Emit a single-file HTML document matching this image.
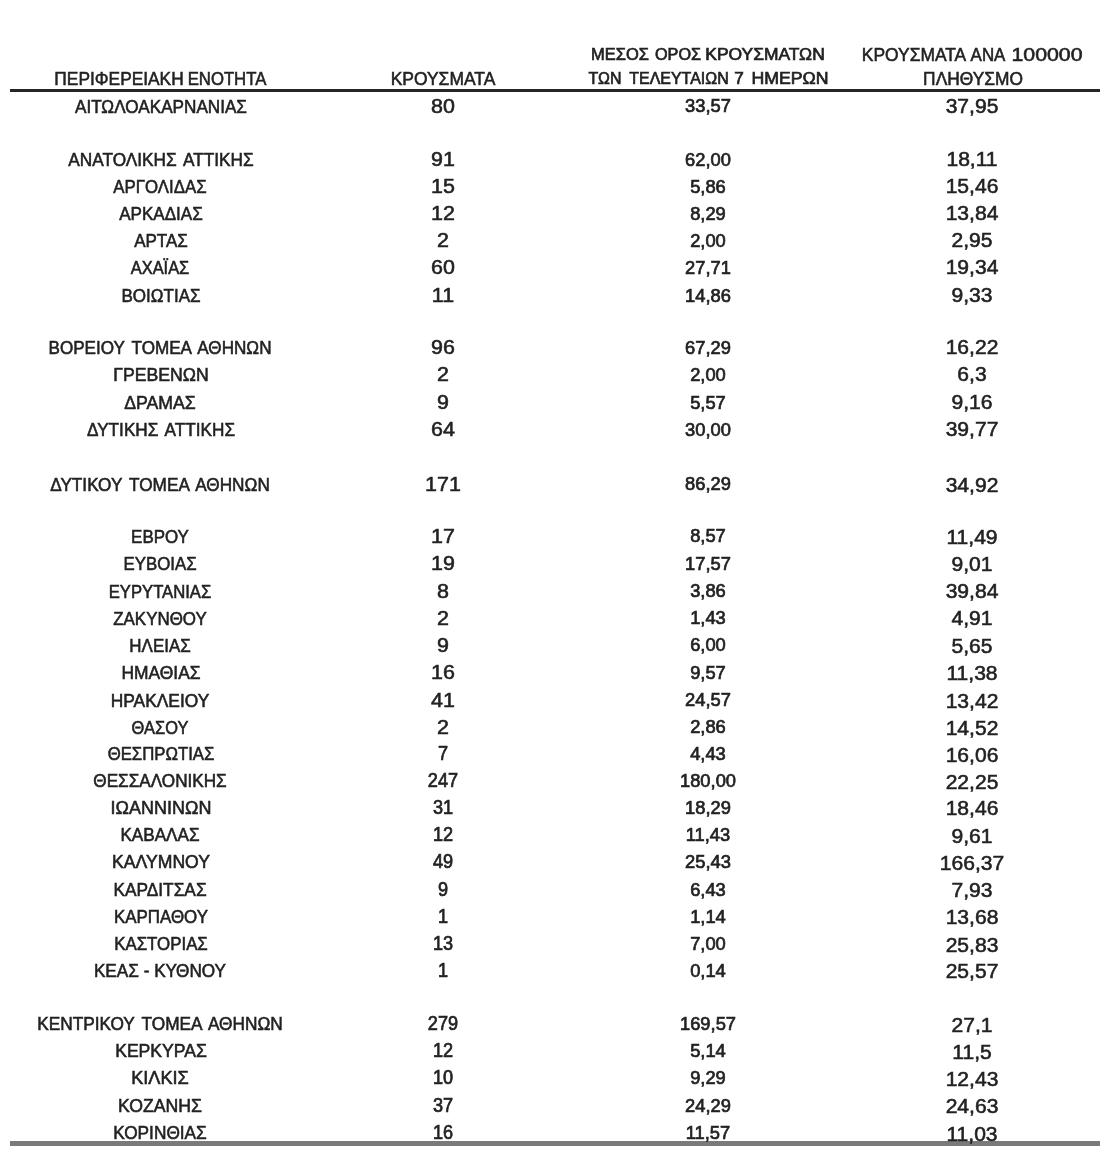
<!DOCTYPE html>
<html><head><meta charset="utf-8">
<style>
html,body{margin:0;padding:0;background:#fff;width:1100px;height:1167px;overflow:hidden;position:relative;}
#w{position:absolute;left:0;top:0;width:1100px;height:1167px;overflow:hidden;filter:blur(0.45px);}
.c{position:absolute;width:600px;line-height:30px;text-align:center;white-space:nowrap;font-family:"Liberation Sans",sans-serif;color:#222;-webkit-text-stroke:0.55px #222;transform-origin:50% 50%;}
.ln{position:absolute;}
</style></head><body><div id="w">
<div class="ln" style="left:10px;top:89px;width:1090px;height:3px;background:#262626"></div>
<div class="ln" style="left:10px;top:1141px;width:1090px;height:5px;background:#7a7a7a"></div>
<div class="c" style="left:-181.42px;top:64.26px;font-size:18.0px;transform:scaleX(0.9622);">ΠΕΡΙΦΕΡΕΙΑΚΗ</div>
<div class="c" style="left:-72.57px;top:64.26px;font-size:18.0px;transform:scaleX(0.9295);">ΕΝΟΤΗΤΑ</div>
<div class="c" style="left:142.77px;top:64.06px;font-size:18.0px;transform:scaleX(0.9694);">ΚΡΟΥΣΜΑΤΑ</div>
<div class="c" style="left:320.37px;top:38.80px;font-size:17.2px;transform:scaleX(0.9564);-webkit-text-stroke-width:0.7px;">ΜΕΣΟΣ</div>
<div class="c" style="left:377.64px;top:38.80px;font-size:17.2px;transform:scaleX(0.9424);-webkit-text-stroke-width:0.7px;">ΟΡΟΣ</div>
<div class="c" style="left:464.77px;top:38.80px;font-size:17.2px;transform:scaleX(1.0142);-webkit-text-stroke-width:0.7px;">ΚΡΟΥΣΜΑΤΩΝ</div>
<div class="c" style="left:304.57px;top:63.00px;font-size:17.2px;transform:scaleX(0.9278);-webkit-text-stroke-width:0.7px;">ΤΩΝ</div>
<div class="c" style="left:379.36px;top:63.00px;font-size:17.2px;transform:scaleX(0.9286);-webkit-text-stroke-width:0.7px;">ΤΕΛΕΥΤΑΙΩΝ</div>
<div class="c" style="left:439.40px;top:63.00px;font-size:17.2px;transform:scaleX(0.9985);-webkit-text-stroke-width:0.7px;">7</div>
<div class="c" style="left:489.59px;top:63.00px;font-size:17.2px;transform:scaleX(1.0302);-webkit-text-stroke-width:0.7px;">ΗΜΕΡΩΝ</div>
<div class="c" style="left:613.99px;top:40.16px;font-size:18.0px;transform:scaleX(0.9673);">ΚΡΟΥΣΜΑΤΑ</div>
<div class="c" style="left:688.29px;top:40.16px;font-size:18.0px;transform:scaleX(0.9395);">ΑΝΑ</div>
<div class="c" style="left:746.95px;top:40.16px;font-size:18.0px;transform:scaleX(1.1834);">100000</div>
<div class="c" style="left:672.60px;top:64.36px;font-size:18.0px;transform:scaleX(0.9633);">ΠΛΗΘΥΣΜΟ</div>
<div class="c" style="left:-139.49px;top:92.30px;font-size:17.5px;transform:scaleX(0.9793);word-spacing:2.5px;">ΑΙΤΩΛΟΑΚΑΡΝΑΝΙΑΣ</div>
<div class="c" style="left:143.25px;top:91.30px;font-size:19.5px;transform:scaleX(1.1);">80</div>
<div class="c" style="left:407.80px;top:90.80px;font-size:18.5px;transform:scaleX(0.99);-webkit-text-stroke-width:0.7px;">33,57</div>
<div class="c" style="left:672.20px;top:91.30px;font-size:19.5px;transform:scaleX(1.08);">37,95</div>
<div class="c" style="left:-139.28px;top:145.20px;font-size:17.5px;transform:scaleX(0.9853);word-spacing:2.5px;">ΑΝΑΤΟΛΙΚΗΣ ΑΤΤΙΚΗΣ</div>
<div class="c" style="left:143.25px;top:144.20px;font-size:19.5px;transform:scaleX(1.1);">91</div>
<div class="c" style="left:407.80px;top:145.20px;font-size:18.5px;transform:scaleX(0.99);-webkit-text-stroke-width:0.7px;">62,00</div>
<div class="c" style="left:672.20px;top:144.20px;font-size:19.5px;transform:scaleX(1.08);">18,11</div>
<div class="c" style="left:-139.63px;top:172.00px;font-size:17.5px;transform:scaleX(0.9613);word-spacing:2.5px;">ΑΡΓΟΛΙΔΑΣ</div>
<div class="c" style="left:143.25px;top:171.00px;font-size:19.5px;transform:scaleX(1.1);">15</div>
<div class="c" style="left:407.80px;top:172.00px;font-size:18.5px;transform:scaleX(0.99);-webkit-text-stroke-width:0.7px;">5,86</div>
<div class="c" style="left:672.20px;top:171.00px;font-size:19.5px;transform:scaleX(1.08);">15,46</div>
<div class="c" style="left:-139.16px;top:199.10px;font-size:17.5px;transform:scaleX(0.9742);word-spacing:2.5px;">ΑΡΚΑΔΙΑΣ</div>
<div class="c" style="left:143.25px;top:198.10px;font-size:19.5px;transform:scaleX(1.1);">12</div>
<div class="c" style="left:407.80px;top:199.10px;font-size:18.5px;transform:scaleX(0.99);-webkit-text-stroke-width:0.7px;">8,29</div>
<div class="c" style="left:672.20px;top:198.10px;font-size:19.5px;transform:scaleX(1.08);">13,84</div>
<div class="c" style="left:-139.04px;top:226.30px;font-size:17.5px;transform:scaleX(0.9699);word-spacing:2.5px;">ΑΡΤΑΣ</div>
<div class="c" style="left:143.25px;top:225.30px;font-size:19.5px;transform:scaleX(1.1);">2</div>
<div class="c" style="left:407.80px;top:226.30px;font-size:18.5px;transform:scaleX(0.99);-webkit-text-stroke-width:0.7px;">2,00</div>
<div class="c" style="left:672.20px;top:225.30px;font-size:19.5px;transform:scaleX(1.08);">2,95</div>
<div class="c" style="left:-139.81px;top:253.30px;font-size:17.5px;transform:scaleX(0.9388);word-spacing:2.5px;">ΑΧΑΪΑΣ</div>
<div class="c" style="left:143.25px;top:252.30px;font-size:19.5px;transform:scaleX(1.1);">60</div>
<div class="c" style="left:407.80px;top:253.30px;font-size:18.5px;transform:scaleX(0.99);-webkit-text-stroke-width:0.7px;">27,71</div>
<div class="c" style="left:672.20px;top:252.30px;font-size:19.5px;transform:scaleX(1.08);">19,34</div>
<div class="c" style="left:-139.37px;top:280.60px;font-size:17.5px;transform:scaleX(0.9729);word-spacing:2.5px;">ΒΟΙΩΤΙΑΣ</div>
<div class="c" style="left:143.25px;top:279.60px;font-size:19.5px;transform:scaleX(1.1);">11</div>
<div class="c" style="left:407.80px;top:280.60px;font-size:18.5px;transform:scaleX(0.99);-webkit-text-stroke-width:0.7px;">14,86</div>
<div class="c" style="left:672.20px;top:279.60px;font-size:19.5px;transform:scaleX(1.08);">9,33</div>
<div class="c" style="left:-139.70px;top:332.90px;font-size:17.5px;transform:scaleX(0.9774);word-spacing:2.5px;">ΒΟΡΕΙΟΥ ΤΟΜΕΑ ΑΘΗΝΩΝ</div>
<div class="c" style="left:143.25px;top:331.90px;font-size:19.5px;transform:scaleX(1.1);">96</div>
<div class="c" style="left:407.80px;top:332.90px;font-size:18.5px;transform:scaleX(0.99);-webkit-text-stroke-width:0.7px;">67,29</div>
<div class="c" style="left:672.20px;top:331.90px;font-size:19.5px;transform:scaleX(1.08);">16,22</div>
<div class="c" style="left:-139.36px;top:360.30px;font-size:17.5px;transform:scaleX(1.0079);word-spacing:2.5px;">ΓΡΕΒΕΝΩΝ</div>
<div class="c" style="left:143.25px;top:359.30px;font-size:19.5px;transform:scaleX(1.1);">2</div>
<div class="c" style="left:407.80px;top:360.30px;font-size:18.5px;transform:scaleX(0.99);-webkit-text-stroke-width:0.7px;">2,00</div>
<div class="c" style="left:672.20px;top:359.30px;font-size:19.5px;transform:scaleX(1.08);">6,3</div>
<div class="c" style="left:-139.93px;top:387.60px;font-size:17.5px;transform:scaleX(1.009);word-spacing:2.5px;">ΔΡΑΜΑΣ</div>
<div class="c" style="left:143.25px;top:386.60px;font-size:19.5px;transform:scaleX(1.1);">9</div>
<div class="c" style="left:407.80px;top:387.60px;font-size:18.5px;transform:scaleX(0.99);-webkit-text-stroke-width:0.7px;">5,57</div>
<div class="c" style="left:672.20px;top:386.60px;font-size:19.5px;transform:scaleX(1.08);">9,16</div>
<div class="c" style="left:-139.38px;top:415.00px;font-size:17.5px;transform:scaleX(0.981);word-spacing:2.5px;">ΔΥΤΙΚΗΣ ΑΤΤΙΚΗΣ</div>
<div class="c" style="left:143.25px;top:414.00px;font-size:19.5px;transform:scaleX(1.1);">64</div>
<div class="c" style="left:407.80px;top:415.00px;font-size:18.5px;transform:scaleX(0.99);-webkit-text-stroke-width:0.7px;">30,00</div>
<div class="c" style="left:672.20px;top:414.00px;font-size:19.5px;transform:scaleX(1.08);">39,77</div>
<div class="c" style="left:-139.81px;top:469.80px;font-size:17.5px;transform:scaleX(0.9829);word-spacing:2.5px;">ΔΥΤΙΚΟΥ ΤΟΜΕΑ ΑΘΗΝΩΝ</div>
<div class="c" style="left:143.25px;top:468.80px;font-size:19.5px;transform:scaleX(1.1);">171</div>
<div class="c" style="left:407.80px;top:469.10px;font-size:18.5px;transform:scaleX(0.99);-webkit-text-stroke-width:0.7px;">86,29</div>
<div class="c" style="left:672.20px;top:469.60px;font-size:19.5px;transform:scaleX(1.08);">34,92</div>
<div class="c" style="left:-140.16px;top:521.90px;font-size:17.5px;transform:scaleX(0.9675);word-spacing:2.5px;">ΕΒΡΟΥ</div>
<div class="c" style="left:143.25px;top:520.90px;font-size:19.5px;transform:scaleX(1.1);">17</div>
<div class="c" style="left:407.80px;top:521.20px;font-size:18.5px;transform:scaleX(0.99);-webkit-text-stroke-width:0.7px;">8,57</div>
<div class="c" style="left:672.20px;top:521.70px;font-size:19.5px;transform:scaleX(1.08);">11,49</div>
<div class="c" style="left:-140.37px;top:549.20px;font-size:17.5px;transform:scaleX(0.9622);word-spacing:2.5px;">ΕΥΒΟΙΑΣ</div>
<div class="c" style="left:143.25px;top:548.20px;font-size:19.5px;transform:scaleX(1.1);">19</div>
<div class="c" style="left:407.80px;top:548.50px;font-size:18.5px;transform:scaleX(0.99);-webkit-text-stroke-width:0.7px;">17,57</div>
<div class="c" style="left:672.20px;top:549.00px;font-size:19.5px;transform:scaleX(1.08);">9,01</div>
<div class="c" style="left:-140.02px;top:576.50px;font-size:17.5px;transform:scaleX(0.9518);word-spacing:2.5px;">ΕΥΡΥΤΑΝΙΑΣ</div>
<div class="c" style="left:143.25px;top:575.50px;font-size:19.5px;transform:scaleX(1.1);">8</div>
<div class="c" style="left:407.80px;top:575.80px;font-size:18.5px;transform:scaleX(0.99);-webkit-text-stroke-width:0.7px;">3,86</div>
<div class="c" style="left:672.20px;top:576.30px;font-size:19.5px;transform:scaleX(1.08);">39,84</div>
<div class="c" style="left:-140.39px;top:603.60px;font-size:17.5px;transform:scaleX(0.9682);word-spacing:2.5px;">ΖΑΚΥΝΘΟΥ</div>
<div class="c" style="left:143.25px;top:602.60px;font-size:19.5px;transform:scaleX(1.1);">2</div>
<div class="c" style="left:407.80px;top:602.90px;font-size:18.5px;transform:scaleX(0.99);-webkit-text-stroke-width:0.7px;">1,43</div>
<div class="c" style="left:672.20px;top:603.40px;font-size:19.5px;transform:scaleX(1.08);">4,91</div>
<div class="c" style="left:-139.62px;top:631.00px;font-size:17.5px;transform:scaleX(0.9676);word-spacing:2.5px;">ΗΛΕΙΑΣ</div>
<div class="c" style="left:143.25px;top:630.00px;font-size:19.5px;transform:scaleX(1.1);">9</div>
<div class="c" style="left:407.80px;top:630.30px;font-size:18.5px;transform:scaleX(0.99);-webkit-text-stroke-width:0.7px;">6,00</div>
<div class="c" style="left:672.20px;top:630.80px;font-size:19.5px;transform:scaleX(1.08);">5,65</div>
<div class="c" style="left:-139.13px;top:658.30px;font-size:17.5px;transform:scaleX(0.9952);word-spacing:2.5px;">ΗΜΑΘΙΑΣ</div>
<div class="c" style="left:143.25px;top:657.30px;font-size:19.5px;transform:scaleX(1.1);">16</div>
<div class="c" style="left:407.80px;top:657.60px;font-size:18.5px;transform:scaleX(0.99);-webkit-text-stroke-width:0.7px;">9,57</div>
<div class="c" style="left:672.20px;top:658.10px;font-size:19.5px;transform:scaleX(1.08);">11,38</div>
<div class="c" style="left:-139.79px;top:685.80px;font-size:17.5px;transform:scaleX(0.9925);word-spacing:2.5px;">ΗΡΑΚΛΕΙΟΥ</div>
<div class="c" style="left:143.25px;top:684.80px;font-size:19.5px;transform:scaleX(1.1);">41</div>
<div class="c" style="left:407.80px;top:685.10px;font-size:18.5px;transform:scaleX(0.99);-webkit-text-stroke-width:0.7px;">24,57</div>
<div class="c" style="left:672.20px;top:685.60px;font-size:19.5px;transform:scaleX(1.08);">13,42</div>
<div class="c" style="left:-140.20px;top:712.80px;font-size:17.5px;transform:scaleX(0.9377);word-spacing:2.5px;">ΘΑΣΟΥ</div>
<div class="c" style="left:143.25px;top:711.80px;font-size:19.5px;transform:scaleX(1.1);">2</div>
<div class="c" style="left:407.80px;top:712.10px;font-size:18.5px;transform:scaleX(0.99);-webkit-text-stroke-width:0.7px;">2,86</div>
<div class="c" style="left:672.20px;top:712.60px;font-size:19.5px;transform:scaleX(1.08);">14,52</div>
<div class="c" style="left:-139.19px;top:739.20px;font-size:17.5px;transform:scaleX(0.9567);word-spacing:2.5px;">ΘΕΣΠΡΩΤΙΑΣ</div>
<div class="c" style="left:143.25px;top:738.20px;font-size:19.5px;transform:scaleX(0.93);-webkit-text-stroke-width:0.7px;">7</div>
<div class="c" style="left:407.80px;top:739.20px;font-size:18.5px;transform:scaleX(0.99);-webkit-text-stroke-width:0.7px;">4,43</div>
<div class="c" style="left:672.20px;top:739.50px;font-size:19.5px;transform:scaleX(1.08);">16,06</div>
<div class="c" style="left:-139.71px;top:766.20px;font-size:17.5px;transform:scaleX(0.9799);word-spacing:2.5px;">ΘΕΣΣΑΛΟΝΙΚΗΣ</div>
<div class="c" style="left:143.25px;top:765.20px;font-size:19.5px;transform:scaleX(0.93);-webkit-text-stroke-width:0.7px;">247</div>
<div class="c" style="left:407.80px;top:766.20px;font-size:18.5px;transform:scaleX(0.99);-webkit-text-stroke-width:0.7px;">180,00</div>
<div class="c" style="left:672.20px;top:766.50px;font-size:19.5px;transform:scaleX(1.08);">22,25</div>
<div class="c" style="left:-139.50px;top:793.10px;font-size:17.5px;transform:scaleX(1.0271);word-spacing:2.5px;">ΙΩΑΝΝΙΝΩΝ</div>
<div class="c" style="left:143.25px;top:792.10px;font-size:19.5px;transform:scaleX(0.93);-webkit-text-stroke-width:0.7px;">31</div>
<div class="c" style="left:407.80px;top:793.10px;font-size:18.5px;transform:scaleX(0.99);-webkit-text-stroke-width:0.7px;">18,29</div>
<div class="c" style="left:672.20px;top:793.40px;font-size:19.5px;transform:scaleX(1.08);">18,46</div>
<div class="c" style="left:-139.61px;top:820.40px;font-size:17.5px;transform:scaleX(0.9793);word-spacing:2.5px;">ΚΑΒΑΛΑΣ</div>
<div class="c" style="left:143.25px;top:819.40px;font-size:19.5px;transform:scaleX(0.93);-webkit-text-stroke-width:0.7px;">12</div>
<div class="c" style="left:407.80px;top:820.40px;font-size:18.5px;transform:scaleX(0.99);-webkit-text-stroke-width:0.7px;">11,43</div>
<div class="c" style="left:672.20px;top:820.70px;font-size:19.5px;transform:scaleX(1.08);">9,61</div>
<div class="c" style="left:-139.48px;top:847.40px;font-size:17.5px;transform:scaleX(1.006);word-spacing:2.5px;">ΚΑΛΥΜΝΟΥ</div>
<div class="c" style="left:143.25px;top:846.40px;font-size:19.5px;transform:scaleX(0.93);-webkit-text-stroke-width:0.7px;">49</div>
<div class="c" style="left:407.80px;top:847.40px;font-size:18.5px;transform:scaleX(0.99);-webkit-text-stroke-width:0.7px;">25,43</div>
<div class="c" style="left:672.20px;top:847.70px;font-size:19.5px;transform:scaleX(1.08);">166,37</div>
<div class="c" style="left:-139.59px;top:875.00px;font-size:17.5px;transform:scaleX(0.9883);word-spacing:2.5px;">ΚΑΡΔΙΤΣΑΣ</div>
<div class="c" style="left:143.25px;top:874.00px;font-size:19.5px;transform:scaleX(0.93);-webkit-text-stroke-width:0.7px;">9</div>
<div class="c" style="left:407.80px;top:875.00px;font-size:18.5px;transform:scaleX(0.99);-webkit-text-stroke-width:0.7px;">6,43</div>
<div class="c" style="left:672.20px;top:875.30px;font-size:19.5px;transform:scaleX(1.08);">7,93</div>
<div class="c" style="left:-139.34px;top:901.90px;font-size:17.5px;transform:scaleX(0.9657);word-spacing:2.5px;">ΚΑΡΠΑΘΟΥ</div>
<div class="c" style="left:143.25px;top:900.90px;font-size:19.5px;transform:scaleX(0.93);-webkit-text-stroke-width:0.7px;">1</div>
<div class="c" style="left:407.80px;top:901.90px;font-size:18.5px;transform:scaleX(0.99);-webkit-text-stroke-width:0.7px;">1,14</div>
<div class="c" style="left:672.20px;top:902.20px;font-size:19.5px;transform:scaleX(1.08);">13,68</div>
<div class="c" style="left:-139.43px;top:929.20px;font-size:17.5px;transform:scaleX(0.9631);word-spacing:2.5px;">ΚΑΣΤΟΡΙΑΣ</div>
<div class="c" style="left:143.25px;top:928.20px;font-size:19.5px;transform:scaleX(0.93);-webkit-text-stroke-width:0.7px;">13</div>
<div class="c" style="left:407.80px;top:929.20px;font-size:18.5px;transform:scaleX(0.99);-webkit-text-stroke-width:0.7px;">7,00</div>
<div class="c" style="left:672.20px;top:929.50px;font-size:19.5px;transform:scaleX(1.08);">25,83</div>
<div class="c" style="left:-139.69px;top:955.80px;font-size:17.5px;transform:scaleX(0.9808);word-spacing:0px;">ΚΕΑΣ - ΚΥΘΝΟΥ</div>
<div class="c" style="left:143.25px;top:954.80px;font-size:19.5px;transform:scaleX(0.93);-webkit-text-stroke-width:0.7px;">1</div>
<div class="c" style="left:407.80px;top:955.80px;font-size:18.5px;transform:scaleX(0.99);-webkit-text-stroke-width:0.7px;">0,14</div>
<div class="c" style="left:672.20px;top:956.10px;font-size:19.5px;transform:scaleX(1.08);">25,57</div>
<div class="c" style="left:-139.67px;top:1009.40px;font-size:17.5px;transform:scaleX(0.9866);word-spacing:2.5px;">ΚΕΝΤΡΙΚΟΥ ΤΟΜΕΑ ΑΘΗΝΩΝ</div>
<div class="c" style="left:143.25px;top:1008.40px;font-size:19.5px;transform:scaleX(0.93);-webkit-text-stroke-width:0.7px;">279</div>
<div class="c" style="left:407.80px;top:1009.40px;font-size:18.5px;transform:scaleX(0.99);-webkit-text-stroke-width:0.7px;">169,57</div>
<div class="c" style="left:672.20px;top:1009.70px;font-size:19.5px;transform:scaleX(1.08);">27,1</div>
<div class="c" style="left:-139.34px;top:1036.30px;font-size:17.5px;transform:scaleX(1.005);word-spacing:2.5px;">ΚΕΡΚΥΡΑΣ</div>
<div class="c" style="left:143.25px;top:1035.30px;font-size:19.5px;transform:scaleX(0.93);-webkit-text-stroke-width:0.7px;">12</div>
<div class="c" style="left:407.80px;top:1036.30px;font-size:18.5px;transform:scaleX(0.99);-webkit-text-stroke-width:0.7px;">5,14</div>
<div class="c" style="left:672.20px;top:1036.60px;font-size:19.5px;transform:scaleX(1.08);">11,5</div>
<div class="c" style="left:-139.78px;top:1063.40px;font-size:17.5px;transform:scaleX(1.0381);word-spacing:2.5px;">ΚΙΛΚΙΣ</div>
<div class="c" style="left:143.25px;top:1062.40px;font-size:19.5px;transform:scaleX(0.93);-webkit-text-stroke-width:0.7px;">10</div>
<div class="c" style="left:407.80px;top:1063.40px;font-size:18.5px;transform:scaleX(0.99);-webkit-text-stroke-width:0.7px;">9,29</div>
<div class="c" style="left:672.20px;top:1063.70px;font-size:19.5px;transform:scaleX(1.08);">12,43</div>
<div class="c" style="left:-139.99px;top:1090.70px;font-size:17.5px;transform:scaleX(1.008);word-spacing:2.5px;">ΚΟΖΑΝΗΣ</div>
<div class="c" style="left:143.25px;top:1089.70px;font-size:19.5px;transform:scaleX(0.93);-webkit-text-stroke-width:0.7px;">37</div>
<div class="c" style="left:407.80px;top:1090.70px;font-size:18.5px;transform:scaleX(0.99);-webkit-text-stroke-width:0.7px;">24,29</div>
<div class="c" style="left:672.20px;top:1091.00px;font-size:19.5px;transform:scaleX(1.08);">24,63</div>
<div class="c" style="left:-139.94px;top:1118.40px;font-size:17.5px;transform:scaleX(0.9867);word-spacing:2.5px;">ΚΟΡΙΝΘΙΑΣ</div>
<div class="c" style="left:143.25px;top:1117.40px;font-size:19.5px;transform:scaleX(0.93);-webkit-text-stroke-width:0.7px;">16</div>
<div class="c" style="left:407.80px;top:1118.40px;font-size:18.5px;transform:scaleX(0.99);-webkit-text-stroke-width:0.7px;">11,57</div>
<div class="c" style="left:672.20px;top:1118.70px;font-size:19.5px;transform:scaleX(1.08);">11,03</div>
</div></body></html>
